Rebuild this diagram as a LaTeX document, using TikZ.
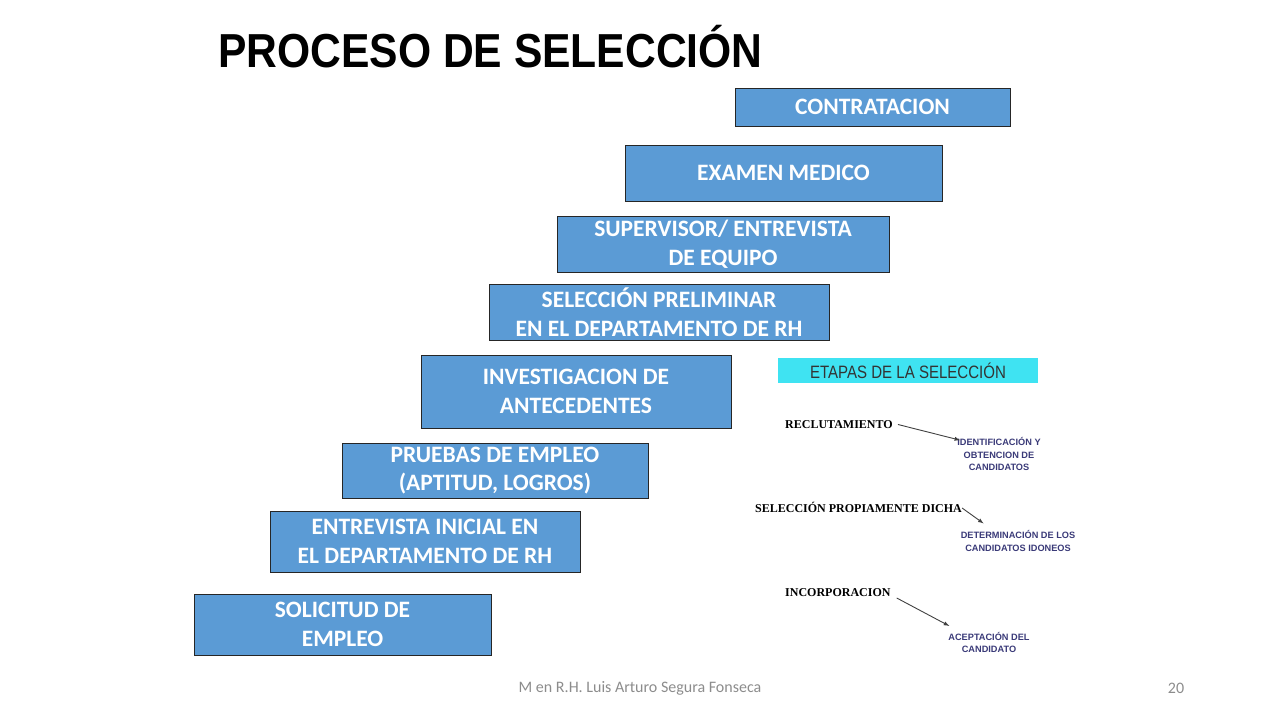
\documentclass[tikz,border=0pt]{standalone}
\usepackage{fontspec}
\setmainfont{Carlito}
\newfontfamily\titlefont{Liberation Sans}
\newfontfamily\timesfont{Liberation Serif}
\usepackage{tikz}
\usetikzlibrary{arrows}
\definecolor{azulcaja}{HTML}{5B9BD5}
\definecolor{cian}{HTML}{3FE3F2}
\definecolor{azulnota}{HTML}{3A3A78}
\definecolor{gris}{HTML}{8C8C8C}

\begin{document}
\begin{tikzpicture}[>=latex, x=1pt, y=-1pt,
	etapa/.style={draw=black!85, line width=1pt, fill=azulcaja, text=white, align=center,
		font=\fontsize{23.5}{28.5}\selectfont\bfseries, inner sep=0pt},
	fase/.style={font=\timesfont\fontsize{12}{13}\selectfont\bfseries, inner sep=0pt},
	nota/.style={text=azulnota, align=center, font=\titlefont\fontsize{9.2}{12.5}\selectfont\bfseries, inner sep=0pt}]
	\useasboundingbox (0,0) rectangle (1280,720);
	% Titolo
	\node [anchor=west, font=\titlefont\fontsize{42.6}{48}\selectfont\bfseries, inner sep=0pt] (titolo) at (218,47) {\scalebox{1}[1.12]{PROCESO DE SELECCIÓN}};
	% Scala delle etapas
	\node [etapa, minimum width=275, minimum height=38] (contratacion) at (872.5,107) {CONTRATACION};
	\node [etapa, minimum width=317, minimum height=56] (examen) at (783.5,173) {EXAMEN MEDICO};
	\node [etapa, minimum width=332, minimum height=56] (supervisor) at (723,244) {SUPERVISOR/ ENTREVISTA\\DE EQUIPO};
	\node [etapa, minimum width=340, minimum height=56] (preliminar) at (659,312) {SELECCIÓN PRELIMINAR\\EN EL DEPARTAMENTO DE RH};
	\node [etapa, minimum width=310, minimum height=73] (investigacion) at (576,391.5) {INVESTIGACION DE\\ANTECEDENTES};
	\node [etapa, minimum width=306, minimum height=55] (pruebas) at (495,470.5) {PRUEBAS DE EMPLEO\\(APTITUD, LOGROS)};
	\node [etapa, minimum width=310, minimum height=61] (entrevista) at (425,541.5) {ENTREVISTA INICIAL EN\\EL DEPARTAMENTO DE RH};
	\node [etapa, minimum width=297, minimum height=61] (solicitud) at (342.5,624.5) {SOLICITUD DE\\EMPLEO};
	% Riquadro etapas de la selección
	\node [fill=cian, minimum width=260, minimum height=25, inner sep=0pt, text=black!80,
		font=\titlefont\fontsize{16}{16}\selectfont] (etapas) at (908,370.5) {\scalebox{0.94}[1.12]{ETAPAS DE LA SELECCIÓN}};
	\node [fase, anchor=west] (reclutamiento) at (785,424.5) {RECLUTAMIENTO};
	\node [fase, anchor=west] (seleccion) at (755,507) {SELECCIÓN PROPIAMENTE DICHA};
	\node [fase, anchor=west] (incorporacion) at (785,593) {INCORPORACION};
	\node [nota] (identificacion) at (999,454) {IDENTIFICACIÓN Y\\OBTENCION DE\\CANDIDATOS};
	\node [nota] (determinacion) at (1018,541) {DETERMINACIÓN DE LOS\\CANDIDATOS IDONEOS};
	\node [nota] (aceptacion) at (989,642.5) {ACEPTACIÓN DEL\\CANDIDATO};
	\draw [->, black!75, line width=0.9pt] ([xshift=5pt]reclutamiento.east) -- ([xshift=3pt, yshift=-3pt]identificacion.north west);
	\draw [->, black!75, line width=0.9pt] ([yshift=-1pt]seleccion.east) -- ([xshift=23pt, yshift=7pt]determinacion.north west);
	\draw [->, black!75, line width=0.9pt] ([xshift=6pt, yshift=-5pt]incorporacion.east) -- ([xshift=1pt, yshift=6pt]aceptacion.north west);
	% Piè di pagina
	\node [text=gris, font=\fontsize{16}{16}\selectfont, inner sep=0pt] (autor) at (640,688) {M en R.H. Luis Arturo Segura Fonseca};
	\node [text=gris, font=\fontsize{16}{16}\selectfont, inner sep=0pt] (pagina) at (1176,688) {20};
\end{tikzpicture}
\end{document}
